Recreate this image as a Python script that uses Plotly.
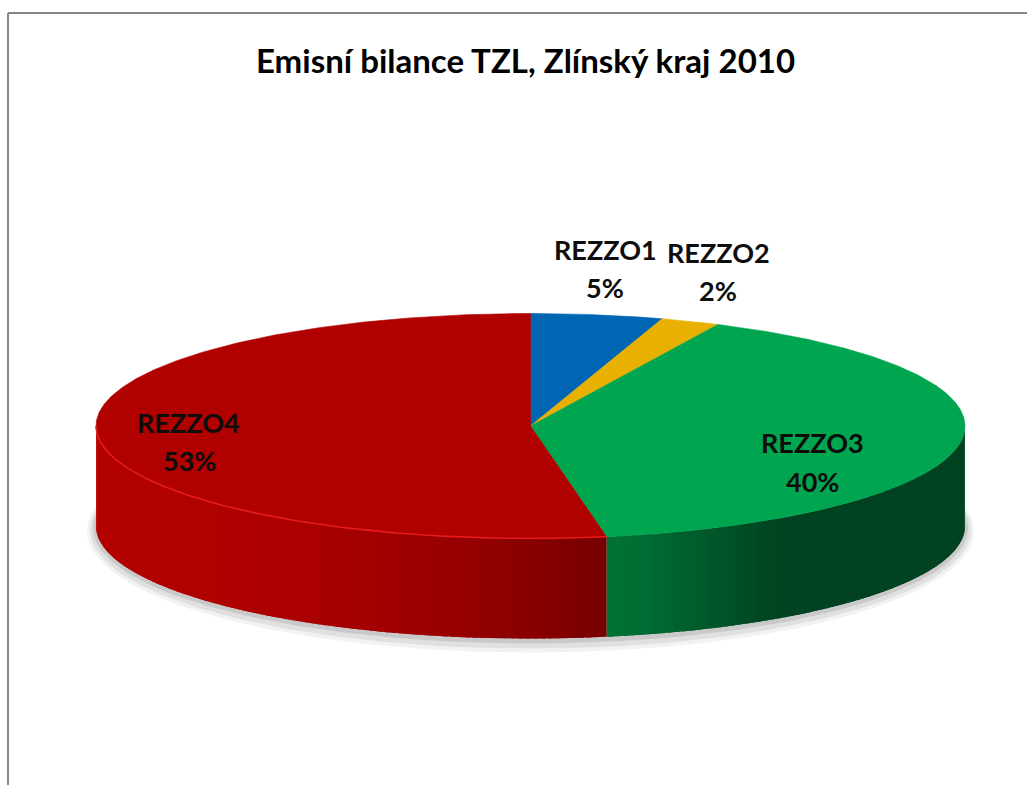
import numpy as np
import plotly.graph_objects as go

# ---- data ----
categories = ["REZZO1", "REZZO2", "REZZO3", "REZZO4"]
values = [4.9, 2.2, 40.1, 52.8]
title_text = "Emisní bilance TZL, Zlínský kraj 2010"

# ---- style ----
top_colors = [(0, 102, 179), (232, 176, 0), (0, 165, 80), (176, 0, 0)]
side_left = [(0, 70, 120), (160, 120, 0), (0, 112, 52), (178, 0, 0)]
side_right = [(0, 50, 90), (130, 95, 0), (0, 66, 33), (118, 0, 0)]
label_pos = [((605, 249), (605, 287)), ((718, 252), (718, 290)),
             ((812, 442), (812, 481)), ((188, 422), (189, 460))]
W, H = 1027, 785
cx, cy, a, b, depth = 530.5, 426.0, 434.5, 112.5, 100.0
FONT = "Lato"

def pt(theta_deg, dy=0.0, ra=a, rb=b):
    t = np.radians(theta_deg)
    return cx + ra * np.sin(t), cy - rb * np.cos(t) + dy

def rgb(c):
    return "rgb(%d,%d,%d)" % tuple(int(round(v)) for v in c)

fig = go.Figure()

# shadow
for grow, alpha, off in [(9, 0.05, 5), (6, 0.07, 4), (3, 0.10, 2)]:
    th = np.linspace(0, 360, 241)
    xs, ys = pt(th, depth + off, a + grow, b + grow)
    fig.add_trace(go.Scatter(x=xs, y=ys, fill="toself", mode="lines",
                             line=dict(width=0), fillcolor="rgba(0,0,0,%g)" % alpha,
                             hoverinfo="skip", showlegend=False))

total = sum(values)
angles = np.concatenate([[0], np.cumsum(values) / total * 360])

# sides (visible front portion: 90..270 deg)
for i in range(len(values)):
    s, e = angles[i], angles[i + 1]
    lo, hi = max(s, 90), min(e, 270)
    if hi <= lo:
        continue
    x_lo, _ = pt(lo)
    x_hi, _ = pt(hi)
    xl, xr = min(x_lo, x_hi), max(x_lo, x_hi)
    n = max(2, int((hi - lo) / 1.0))
    edges = np.linspace(lo, hi, n + 1)
    for k in range(n):
        t0, t1 = edges[k], min(edges[k + 1] + 0.8, hi)
        th = np.linspace(t0, t1, 5)
        xt, yt = pt(th)
        xb, yb = pt(th[::-1], depth)
        xm = np.mean(pt(np.array([edges[k], edges[k + 1]]))[0])
        f = (xm - xl) / (xr - xl) if xr > xl else 0
        if i == 3:
            f = f ** 2.2
        elif i == 2:
            f = min(1.0, f / 0.55)
            f = f * f * (3 - 2 * f)
        c = [side_left[i][j] + (side_right[i][j] - side_left[i][j]) * f for j in range(3)]
        col = rgb(c)
        fig.add_trace(go.Scatter(x=np.concatenate([xt, xb]), y=np.concatenate([yt, yb]),
                                 fill="toself", mode="lines", line=dict(width=0),
                                 fillcolor=col, hoverinfo="skip", showlegend=False))

# top sectors
for i in range(len(values)):
    s, e = angles[i], angles[i + 1]
    th = np.linspace(s, e, max(3, int((e - s) / 0.5)))
    xs, ys = pt(th)
    col = rgb(top_colors[i])
    fig.add_trace(go.Scatter(x=np.concatenate([[cx], xs, [cx]]), y=np.concatenate([[cy], ys, [cy]]),
                             fill="toself", mode="lines", line=dict(width=0.6, color=col),
                             fillcolor=col, hoverinfo="skip", showlegend=False, name=categories[i]))

# rim highlight on red slice front edge
s, e = max(angles[3], 90), min(angles[4], 270)
th = np.linspace(s, e, 200)
xs, ys = pt(th)
fig.add_trace(go.Scatter(x=xs, y=ys, mode="lines", line=dict(width=1.6, color="rgba(235,30,30,0.9)"),
                         hoverinfo="skip", showlegend=False))

# labels
annotations = [dict(x=525, y=60, xref="x", yref="y", text="<b>%s</b>" % title_text, showarrow=False,
                    font=dict(family=FONT, size=33, color="#000000"), xanchor="center", yanchor="middle")]
for i, cat in enumerate(categories):
    pct = "%d%%" % round(values[i] / total * 100)
    (x1, y1), (x2, y2) = label_pos[i]
    annotations.append(dict(x=x1, y=y1, xref="x", yref="y", text="<b>%s</b>" % cat, showarrow=False,
                            font=dict(family=FONT, size=27, color="#0d0d0d"), xanchor="center", yanchor="middle"))
    annotations.append(dict(x=x2, y=y2, xref="x", yref="y", text="<b>%s</b>" % pct, showarrow=False,
                            font=dict(family=FONT, size=27, color="#0d0d0d"), xanchor="center", yanchor="middle"))

shapes = [
    dict(type="line", xref="x", yref="y", x0=8, y0=13, x1=8, y1=H + 5, line=dict(color="#868686", width=2)),
    dict(type="line", xref="x", yref="y", x0=8, y0=13, x1=W + 5, y1=13, line=dict(color="#868686", width=2)),
]

fig.update_layout(
    width=W, height=H, margin=dict(l=0, r=0, t=0, b=0),
    paper_bgcolor="white", plot_bgcolor="white",
    xaxis=dict(range=[0, W], visible=False, fixedrange=True),
    yaxis=dict(range=[H, 0], visible=False, fixedrange=True),
    annotations=annotations, shapes=shapes, showlegend=False,
)
fig.write_html("out.html", config={"displayModeBar": False},
               post_script="document.body.style.margin='0px';document.body.style.overflow='hidden';")
